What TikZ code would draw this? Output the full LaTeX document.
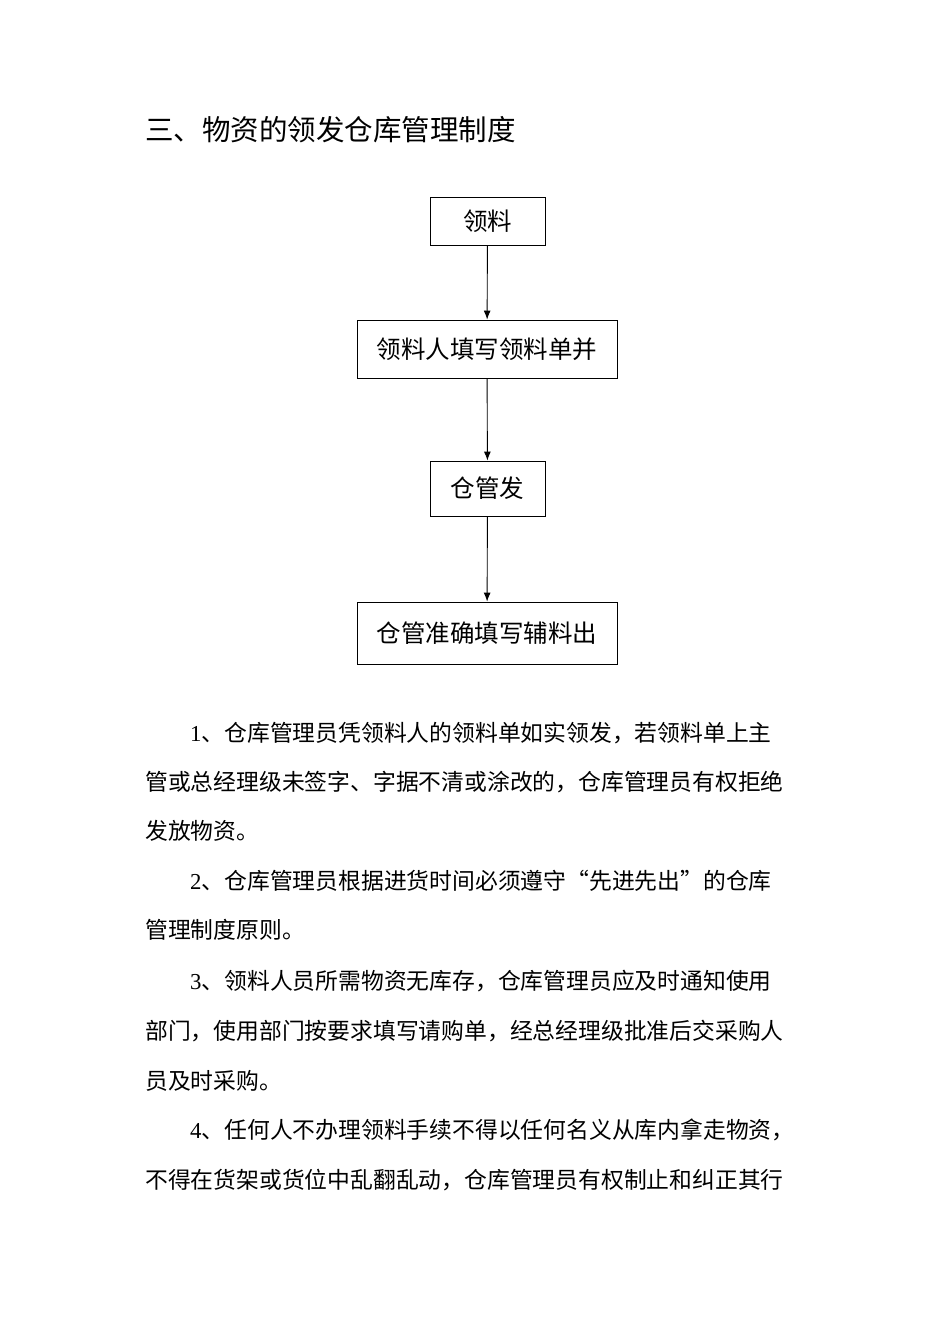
\documentclass[tikz,border=0pt]{standalone}
\usepackage{fontspec}
\setmainfont{Noto Sans CJK SC}
\newfontfamily\numfont{Liberation Serif}
\usetikzlibrary{arrows.meta}
\begin{document}
\begin{tikzpicture}[x=1pt,y=-1pt,
  boxn/.style={draw,line width=0.9pt,inner sep=0pt,font=\fontsize{24.5}{27}\selectfont},
  arr/.style={-{Latex[length=9pt,width=7pt]},line width=0.9pt},
  ln/.style={anchor=west,inner sep=0pt,font=\fontsize{22.8}{26}\selectfont}]
\useasboundingbox (0,0) rectangle (950,1344);
\node[anchor=west,inner sep=0pt,font=\fontsize{28.5}{31}\selectfont] (t) at (145,130) {三、物资的领发仓库管理制度};
\node[boxn,minimum width=115,minimum height=48] (b1) at (487.5,221) {领料};
\node[boxn,minimum width=260,minimum height=58] (b2) at (487,349) {领料人填写领料单并};
\node[boxn,minimum width=115,minimum height=55] (b3) at (487.5,488.5) {仓管发};
\node[boxn,minimum width=260,minimum height=62] (b4) at (487,633) {仓管准确填写辅料出};
\draw[arr] (b1) -- (b2);
\draw[arr] (b2) -- (b3);
\draw[arr] (b3) -- (b4);
\node[ln] (p1) at (190,733) {{\numfont 1}、仓库管理员凭领料人的领料单如实领发，若领料单上主};
\node[ln] (p2) at (145,782) {管或总经理级未签字、字据不清或涂改的，仓库管理员有权拒绝};
\node[ln] (p3) at (145,831) {发放物资。};
\node[ln] (p4) at (190,881) {{\numfont 2}、仓库管理员根据进货时间必须遵守“先进先出”的仓库};
\node[ln] (p5) at (145,930) {管理制度原则。};
\node[ln] (p6) at (190,981) {{\numfont 3}、领料人员所需物资无库存，仓库管理员应及时通知使用};
\node[ln] (p7) at (145,1031) {部门，使用部门按要求填写请购单，经总经理级批准后交采购人};
\node[ln] (p8) at (145,1081) {员及时采购。};
\node[ln] (p9) at (190,1130) {{\numfont 4}、任何人不办理领料手续不得以任何名义从库内拿走物资，};
\node[ln] (p10) at (145,1180) {不得在货架或货位中乱翻乱动，仓库管理员有权制止和纠正其行};
\end{tikzpicture}
\end{document}
